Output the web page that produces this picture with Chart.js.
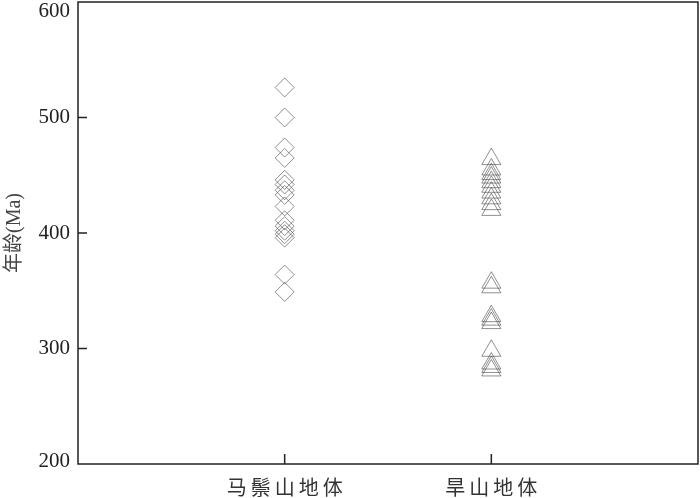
<!DOCTYPE html>
<html>
  <head>
    <title>年龄分布</title>
    <meta charset="utf-8" />
    <script src="https://cdn.jsdelivr.net/npm/chart.js"></script>
    <style>
      html, body { margin: 0; padding: 0; background: #fff; }
      #chart-container { width: 700px; height: 498px; }
    </style>
  </head>
  <body>
    <div id="chart-container">
      <canvas id="age-chart"></canvas>
    </div>

    <script>
      var categories = ["马鬃山地体", "旱山地体"];
      var mazongshanAges = [526, 500, 474, 465, 446, 442, 437, 433, 423, 411, 406, 402, 399, 396, 364, 349];
      var hanshanAges = [464, 455, 451, 448, 444, 440, 435, 430, 425, 420, 357, 353, 328, 325, 322, 298, 287, 284, 281];
      var yTickLabels = [200, 300, 400, 500, 600];

      function toPoints(pos, values) {
        return values.map(function (v) {
          return { x: pos, y: v };
        });
      }

      // spaced-out category names, like the original figure
      function spaced(s) {
        return s.split("").join("\u2009");
      }

      var framePlugin = {
        id: "frame",
        afterDraw: function (chart) {
          var ctx = chart.ctx;
          var a = chart.chartArea;
          var xs = chart.scales.x;
          var ys = chart.scales.y;
          ctx.save();
          ctx.strokeStyle = "#222";
          ctx.lineWidth = 1.5;
          ctx.strokeRect(a.left, a.top, a.right - a.left, a.bottom - a.top);

          // inward tick marks
          ctx.beginPath();
          yTickLabels.forEach(function (v) {
            var py = ys.getPixelForValue(v);
            if (py > a.top + 1 && py < a.bottom - 1) {
              ctx.moveTo(a.left, py);
              ctx.lineTo(a.left + 9, py);
            }
          });
          categories.forEach(function (c, i) {
            var px = xs.getPixelForValue(i + 1);
            ctx.moveTo(px, a.bottom);
            ctx.lineTo(px, a.bottom - 10);
          });
          ctx.stroke();

          // y tick labels, kept inside the canvas at the ends
          ctx.fillStyle = "#222";
          ctx.font = '21px "Liberation Serif", "Times New Roman", serif';
          ctx.textAlign = "right";
          ctx.textBaseline = "middle";
          yTickLabels.forEach(function (v) {
            var py = ys.getPixelForValue(v);
            py = Math.min(Math.max(py, 11), 461);
            ctx.fillText(String(v), a.left - 8, py);
          });
          ctx.restore();
        },
      };

      new Chart(document.getElementById("age-chart"), {
        type: "scatter",
        data: {
          datasets: [
            {
              label: categories[0],
              data: toPoints(1, mazongshanAges),
              pointStyle: "rectRot",
              pointRadius: 9.5,
              borderWidth: 1,
              borderColor: "rgba(70, 70, 70, 0.6)",
              backgroundColor: "rgba(0, 0, 0, 0)",
            },
            {
              label: categories[1],
              data: toPoints(2, hanshanAges),
              pointStyle: "triangle",
              pointRadius: 11,
              borderWidth: 1,
              borderColor: "rgba(70, 70, 70, 0.6)",
              backgroundColor: "rgba(0, 0, 0, 0)",
            },
          ],
        },
        options: {
          responsive: true,
          maintainAspectRatio: false,
          animation: false,
          events: [],
          layout: { autoPadding: false, padding: { top: 2, right: 2, left: 0, bottom: 0 } },
          plugins: {
            legend: { display: false },
            tooltip: { enabled: false },
          },
          scales: {
            x: {
              type: "linear",
              min: 0,
              max: 3,
              grid: { display: false, drawTicks: false },
              border: { display: false },
              afterBuildTicks: function (scale) {
                scale.ticks = categories.map(function (c, i) {
                  return { value: i + 1 };
                });
              },
              afterFit: function (scale) {
                scale.height = 34;
                scale.paddingLeft = 0;
                scale.paddingRight = 0;
              },
              ticks: {
                padding: 11,
                maxRotation: 0,
                autoSkip: false,
                color: "#333",
                font: { family: '"Noto Sans CJK SC", sans-serif', size: 20 },
                callback: function (value) {
                  return spaced(categories[value - 1] || "");
                },
              },
            },
            y: {
              min: 200,
              max: 600,
              grid: { display: false, drawTicks: false },
              border: { display: false },
              ticks: { display: false, stepSize: 100 },
              afterFit: function (scale) {
                scale.width = 78;
                scale.paddingTop = 0;
                scale.paddingBottom = 0;
              },
              title: {
                display: true,
                text: "年龄(Ma)",
                color: "#444",
                padding: 3,
                font: { family: '"Liberation Serif", "Noto Sans CJK SC", serif', size: 20 },
              },
            },
          },
        },
        plugins: [framePlugin],
      });
    </script>
  </body>
</html>
